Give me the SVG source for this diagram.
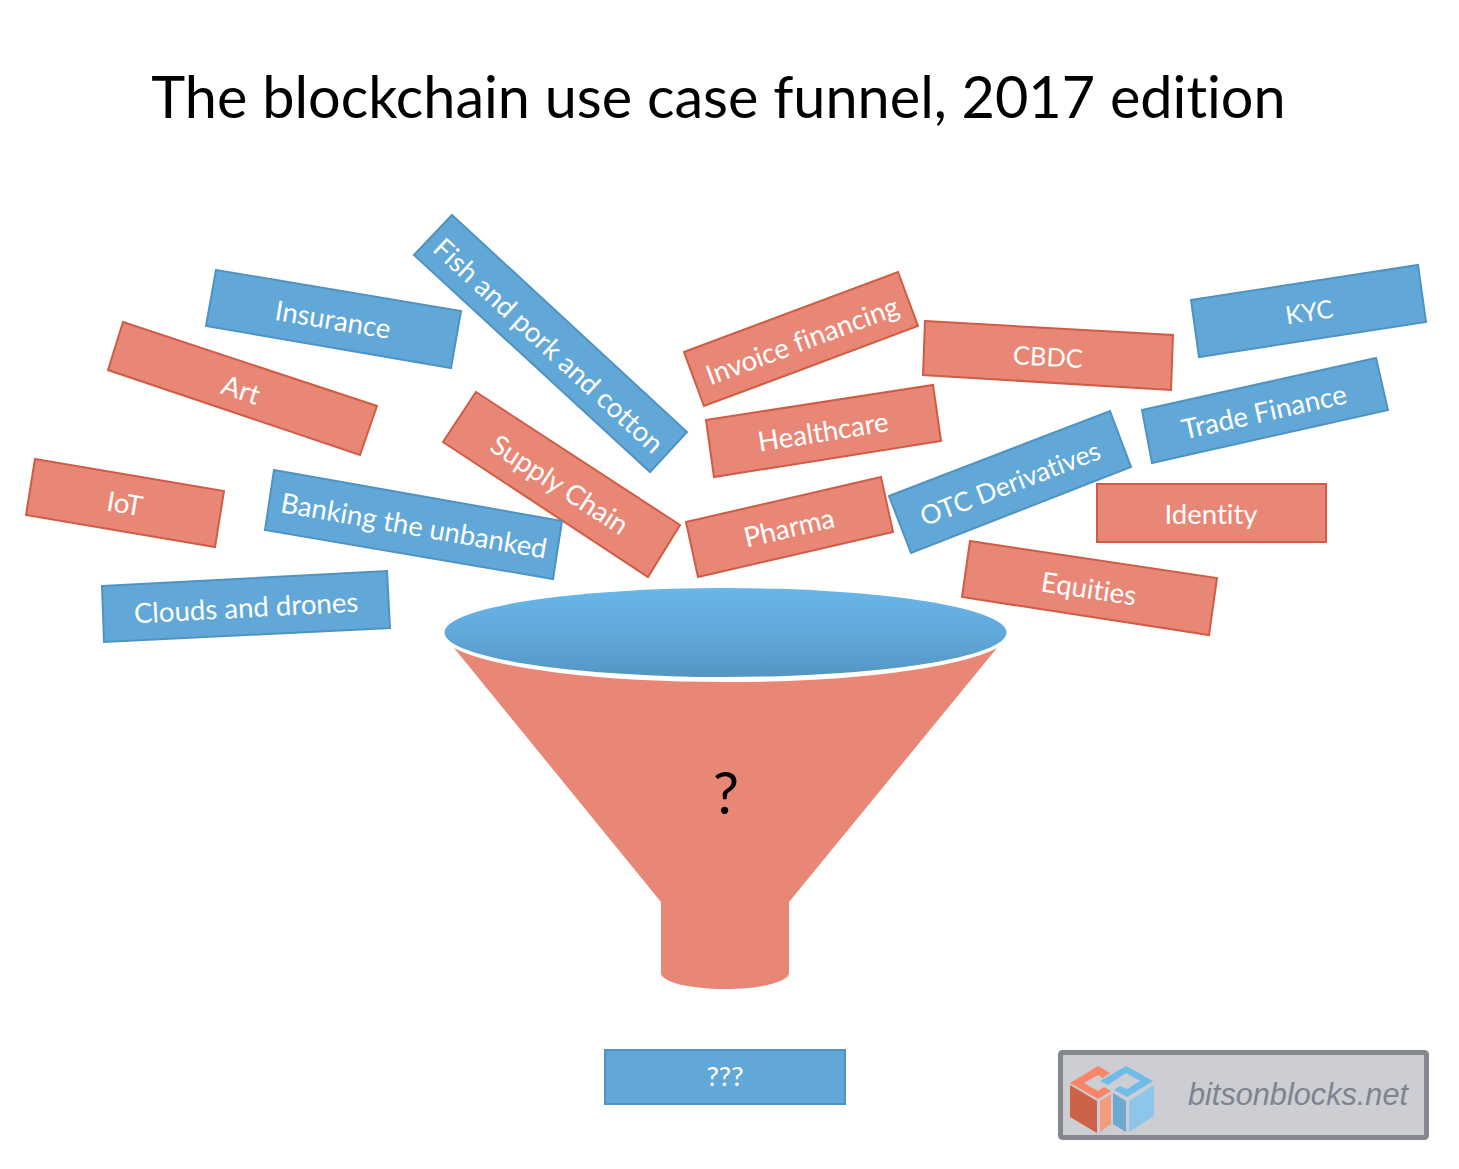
<svg xmlns="http://www.w3.org/2000/svg" width="1459" height="1169" viewBox="0 0 1459 1169">
<style>
text{font-family:Lato,"Open Sans",sans-serif;font-variant-ligatures:none}
.l{fill:#fff;font-size:27.6px;text-anchor:middle;dominant-baseline:central}
.r polygon,.r rect{fill:#e98776;stroke:#d05c45;stroke-width:2}
.b polygon,.b rect{fill:#61a8d8;stroke:#4f93c2;stroke-width:2}
</style>
<defs>
<linearGradient id="g" x1="0" y1="0" x2="0" y2="1"><stop offset="0" stop-color="#69b6e8"/><stop offset="0.5" stop-color="#62a9dc"/><stop offset="1" stop-color="#5296c3"/></linearGradient>
</defs>
<rect width="1459" height="1169" fill="#fff"/>
<text id="title" x="718.500" y="118" font-size="57.600" text-anchor="middle" fill="#000">The blockchain use case funnel, 2017 edition</text>
<g id="funnel">
<path d="M454 648A285 49 0 0 0 997 648L789 902V973C789 982 760 989 725 989C690 989 661 982 661 973V902Z" fill="#e98776"/>
<ellipse cx="725.500" cy="632.500" rx="281" ry="44.500" fill="url(#g)"/>
<text x="726" y="814" font-size="58" text-anchor="middle" fill="#000">?</text>
</g>
<g id="n-insurance" class="b"><polygon points="216,270 461,311 451,368 206,326"/><text class="l" transform="translate(333,319) rotate(9.500)">Insurance</text></g>
<g id="n-fish" class="b"><polygon points="452,215 687,432 650,472 414,255"/><text class="l" transform="translate(549,345) rotate(42.700)">Fish and pork and cotton</text></g>
<g id="n-art" class="r"><polygon points="123,322 377,406 360,455 108,370"/><text class="l" transform="translate(241,389) rotate(18)">Art</text></g>
<g id="n-supply" class="r"><polygon points="476,392 680,525 648,577 443,442"/><text class="l" transform="translate(560,484) rotate(33)">Supply Chain</text></g>
<g id="n-iot" class="r"><polygon points="35,459 224,491 215,547 26,515"/><text class="l" transform="translate(125,503) rotate(9.500)">IoT</text></g>
<g id="n-banking" class="b"><polygon points="274,470 562,521 553,579 265,530"/><text class="l" transform="translate(414,525) rotate(10)">Banking the unbanked</text></g>
<g id="n-clouds" class="b"><polygon points="102,586 387,571 390,628 104,642"/><text class="l" transform="translate(246,607) rotate(-3)">Clouds and drones</text></g>
<g id="n-invoice" class="r"><polygon points="684,352 898,272 918,326 704,406"/><text class="l" transform="translate(802,340) rotate(-20.500)">Invoice financing</text></g>
<g id="n-healthcare" class="r"><polygon points="706,420 933,385 941,441 714,477"/><text class="l" transform="translate(823,431) rotate(-9)">Healthcare</text></g>
<g id="n-cbdc" class="r"><polygon points="925,321 1173,335 1171,390 923,375"/><text class="l" style="font-size:25.500px" transform="translate(1048,356) rotate(3.300)">CBDC</text></g>
<g id="n-kyc" class="b"><polygon points="1191,300 1418,265 1426,322 1199,357"/><text class="l" style="font-size:25px" transform="translate(1309,311) rotate(-9)">KYC</text></g>
<g id="n-trade" class="b"><polygon points="1142,410 1376,358 1388,410 1152,463"/><text class="l" transform="translate(1264,411) rotate(-12.500)">Trade Finance</text></g>
<g id="n-otc" class="b"><polygon points="889,496 1110,411 1131,467 911,553"/><text class="l" style="font-size:26.500px" transform="translate(1010,483) rotate(-21)">OTC Derivatives</text></g>
<g id="n-identity" class="r"><rect x="1097" y="484" width="229" height="58"/><text class="l" x="1211" y="513">Identity</text></g>
<g id="n-pharma" class="r"><polygon points="686,522 881,477 893,532 698,577"/><text class="l" transform="translate(789,527) rotate(-13)">Pharma</text></g>
<g id="n-equities" class="r"><polygon points="970,541 1217,578 1209,635 962,597"/><text class="l" transform="translate(1089,588) rotate(8.500)">Equities</text></g>
<g id="n-output" class="b"><rect x="605" y="1050" width="240" height="54"/><text class="l" x="725" y="1075">???</text></g>
<g id="logo">
<rect x="1060.500" y="1052.500" width="366" height="85" rx="2" fill="#cdced3" stroke="#85878f" stroke-width="5"/>
<polygon points="1070,1085 1097,1101 1097,1133 1070,1117" fill="#cc6247"/>
<polygon points="1100,1101 1111,1094 1111,1124 1100,1132" fill="#f39b7c"/>
<polygon points="1113,1093 1126,1101 1126,1132 1113,1124" fill="#6ca8cf"/>
<polygon points="1129,1101 1154,1085 1154,1116 1129,1132" fill="#8ec5ea"/>
<path d="M1070 1083L1098 1066L1110 1073L1103 1078L1098 1075L1084 1083L1098 1091L1104 1087L1111 1091L1098 1099Z" fill="#fb8667"/>
<path d="M1100 1081L1126 1066L1153 1081L1127 1097L1114 1090L1120 1086L1127 1089L1140 1081L1126 1073L1108 1085Z" fill="#70bce8"/>
<text x="1298" y="1105" font-size="30.700" font-style="italic" text-anchor="middle" fill="#7f838f" style="font-family:'Liberation Sans',Arial,sans-serif">bitsonblocks.net</text>
</g>
</svg>
